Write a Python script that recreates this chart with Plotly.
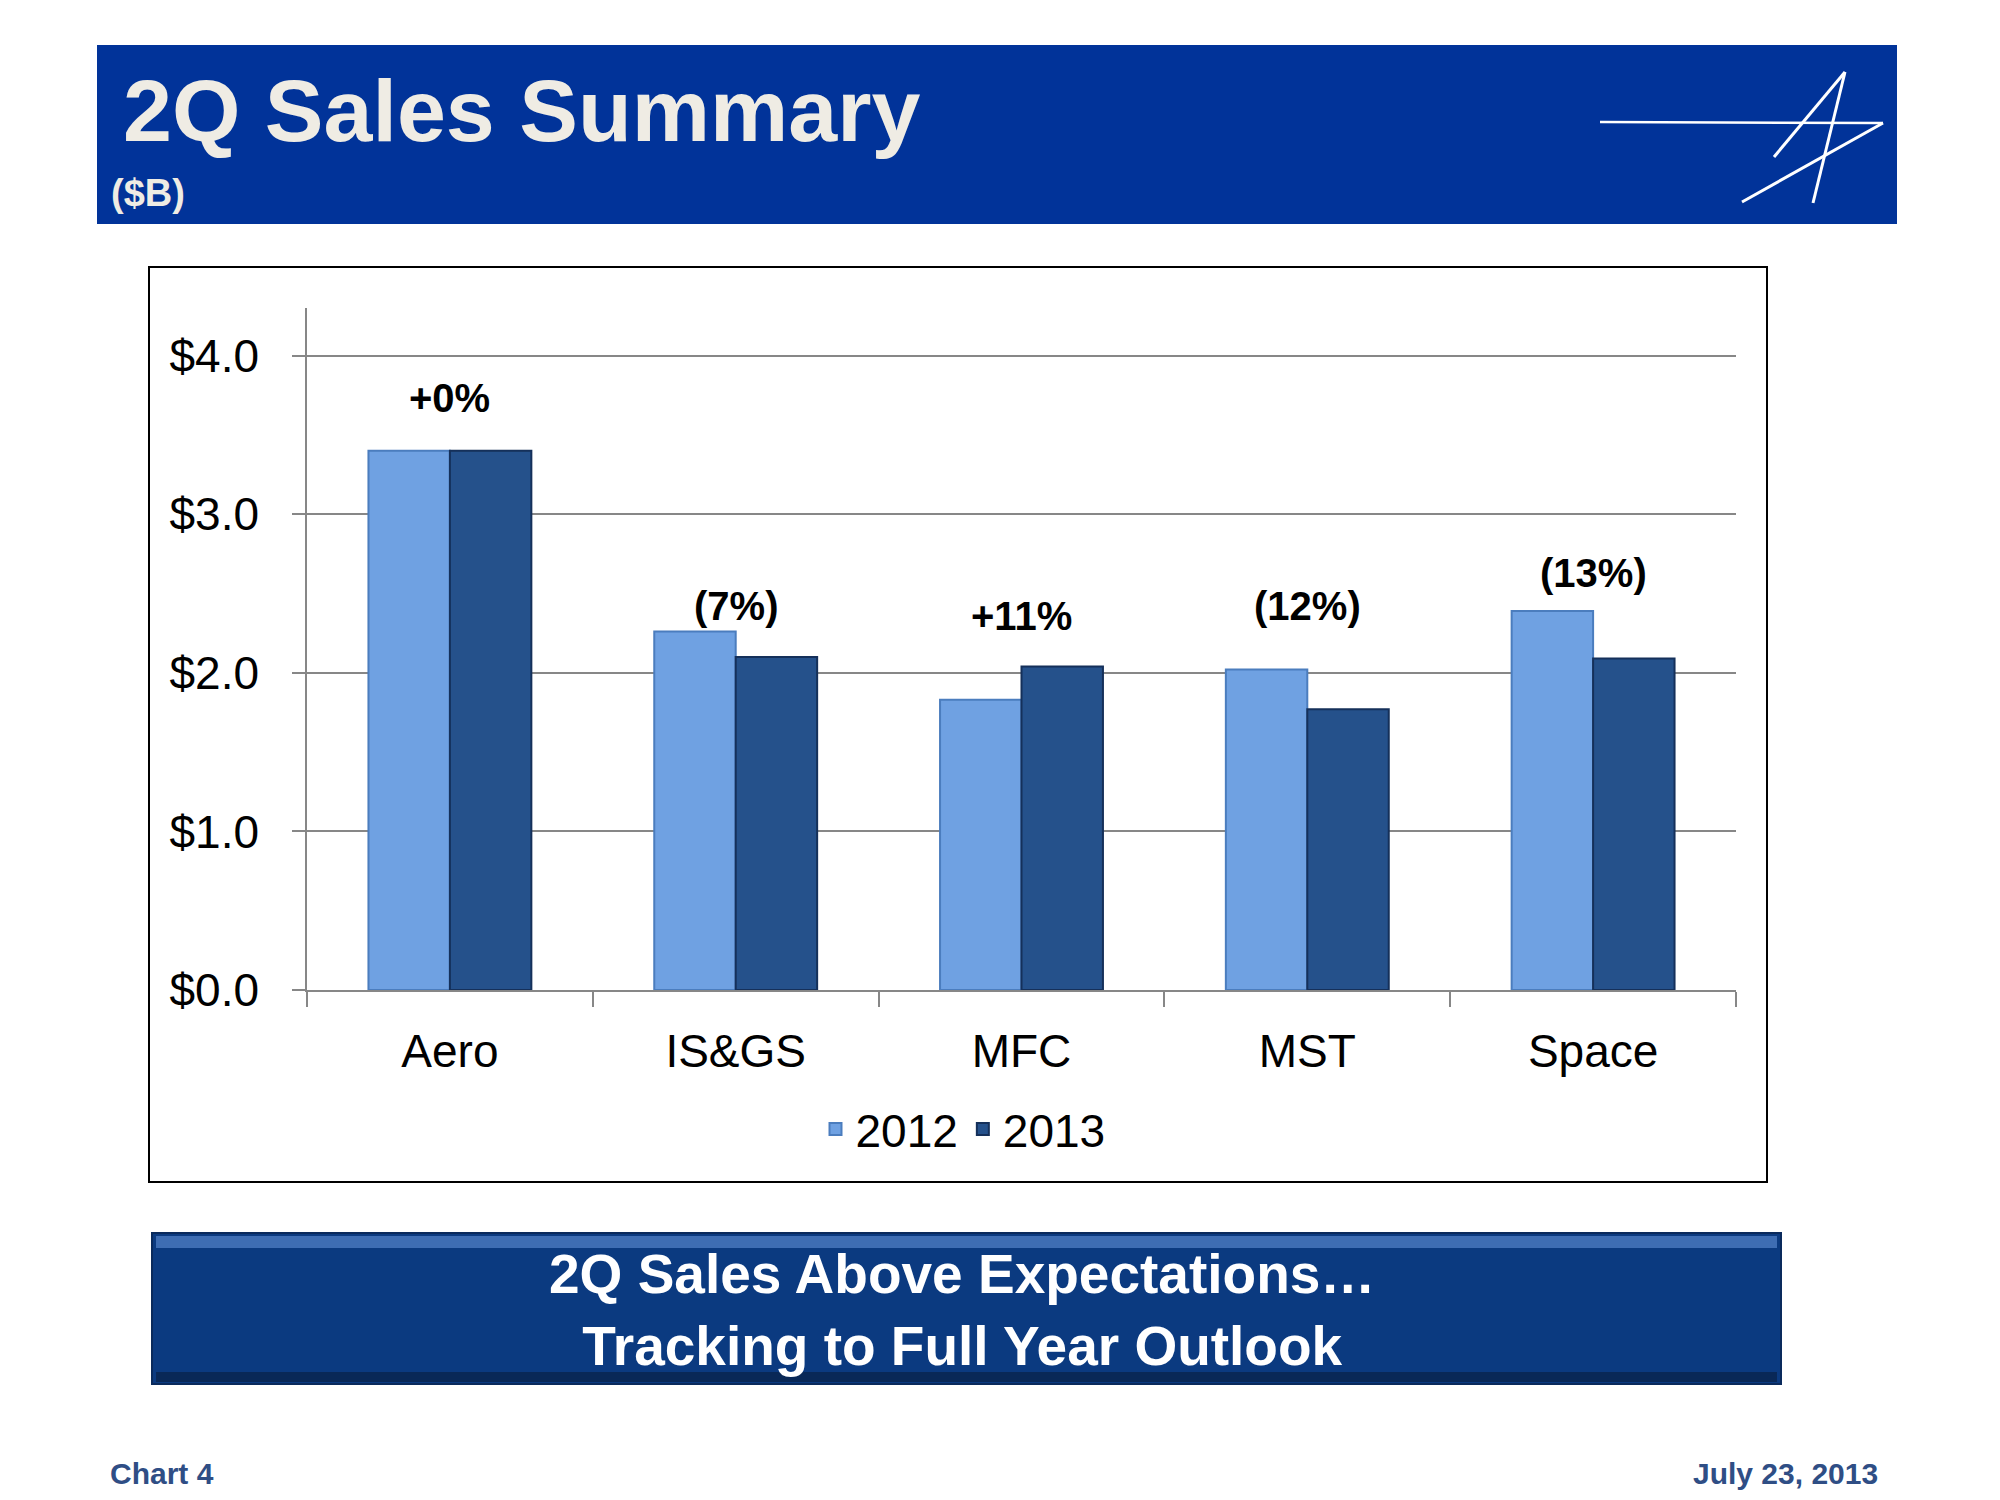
import plotly.graph_objects as go

# ---- data ----
categories = ["Aero", "IS&GS", "MFC", "MST", "Space"]
sales_2012 = [3.40, 2.26, 1.83, 2.02, 2.39]
sales_2013 = [3.40, 2.10, 2.04, 1.77, 2.09]
change_labels = ["+0%", "(7%)", "+11%", "(12%)", "(13%)"]
series_names = ["2012", "2013"]
y_ticks = [0, 1, 2, 3, 4]
y_tick_labels = ["$%.1f" % v for v in y_ticks]

# label lift above taller bar (style)
label_lift = [0.33, 0.16, 0.32, 0.40, 0.24]

OFF = 8  # page body margin
W, H = 2000 - 2 * OFF, 1500 - 2 * OFF
def px(x):
    return (x - OFF) / W
def py(y):
    return (H - (y - OFF)) / H

FONT = "Liberation Sans, Arial, sans-serif"

fig = go.Figure()
fig.add_bar(x=categories, y=sales_2012, name=series_names[0],
            marker=dict(color="#6FA1E2", line=dict(color="#4B7DBE", width=2)))
fig.add_bar(x=categories, y=sales_2013, name=series_names[1],
            marker=dict(color="#25518B", line=dict(color="#15305A", width=2)))

annotations = []
for c, a, b, t, lift in zip(categories, sales_2012, sales_2013, change_labels, label_lift):
    annotations.append(dict(x=c, y=max(a, b) + lift, xref="x", yref="y", text="<b>%s</b>" % t,
                            showarrow=False, font=dict(family=FONT, size=40, color="black"),
                            xanchor="center", yanchor="middle"))

# title texts
annotations.append(dict(x=px(121), y=py(110), xref="paper", yref="paper", text="<b>2Q Sales Summary</b>",
                        showarrow=False, xanchor="left", yanchor="middle",
                        font=dict(family=FONT, size=88, color="#EFECE4")))
annotations.append(dict(x=px(109), y=py(193), xref="paper", yref="paper", text="<b>($B)</b>",
                        showarrow=False, xanchor="left", yanchor="middle",
                        font=dict(family=FONT, size=38, color="#EFECE4")))
# bottom box text
annotations.append(dict(x=px(962), y=py(1310), xref="paper", yref="paper",
                        text="<b>2Q Sales Above Expectations…<br>Tracking to Full Year Outlook</b>",
                        showarrow=False, xanchor="center", yanchor="middle",
                        font=dict(family=FONT, size=55, color="white")))
# footer
annotations.append(dict(x=px(108), y=py(1473), xref="paper", yref="paper", text="<b>Chart 4</b>",
                        showarrow=False, xanchor="left", yanchor="middle",
                        font=dict(family=FONT, size=30, color="#2F4E85")))
annotations.append(dict(x=px(1880), y=py(1473), xref="paper", yref="paper", text="<b>July 23, 2013</b>",
                        showarrow=False, xanchor="right", yanchor="middle",
                        font=dict(family=FONT, size=30, color="#2F4E85")))

shapes = []
# title bar
shapes.append(dict(type="rect", xref="paper", yref="paper", x0=px(97), x1=px(1897), y0=py(224), y1=py(45),
                   fillcolor="#013399", line=dict(width=0), layer="below"))
# logo
def seg(x0, y0, x1, y1, w):
    return dict(type="line", xref="paper", yref="paper", x0=px(x0), y0=py(y0), x1=px(x1), y1=py(y1),
                line=dict(color="white", width=w))
shapes.append(seg(1600, 122, 1883, 123, 2.5))
shapes.append(seg(1883, 123, 1742, 202, 3))
shapes.append(seg(1845, 72, 1813, 203, 3))
shapes.append(seg(1845, 72, 1774, 157, 3))
# chart border
shapes.append(dict(type="rect", xref="paper", yref="paper", x0=px(149), x1=px(1767), y0=py(1182), y1=py(267),
                   line=dict(color="black", width=2), fillcolor="rgba(0,0,0,0)", layer="below"))
# bottom banner with bevel
shapes.append(dict(type="rect", xref="paper", yref="paper", x0=px(152), x1=px(1781), y0=py(1384), y1=py(1233),
                   fillcolor="#0B3A80", line=dict(color="#0A2A5C", width=2), layer="below"))
shapes.append(dict(type="rect", xref="paper", yref="paper", x0=px(156), x1=px(1777), y0=py(1248), y1=py(1236),
                   fillcolor="#3E6DB3", line=dict(width=0), layer="below"))
shapes.append(dict(type="rect", xref="paper", yref="paper", x0=px(156), x1=px(1777), y0=py(1382), y1=py(1372),
                   fillcolor="#092857", line=dict(width=0), layer="below"))

fig.update_layout(
    width=W, height=H,
    margin=dict(l=0, r=0, t=0, b=0, pad=0, autoexpand=False),
    paper_bgcolor="white", plot_bgcolor="white",
    barmode="group", bargap=0.43, bargroupgap=0.0,
    font=dict(family=FONT, color="black"),
    xaxis=dict(domain=[px(307), px(1736)], showline=True, linecolor="#878787", linewidth=1.5,
               ticks="outside", tickson="boundaries", ticklen=15, tickcolor="#878787", tickwidth=1.5,
               tickfont=dict(family=FONT, size=46, color="black"), ticklabelstandoff=20,
               showgrid=False, automargin=False),
    yaxis=dict(domain=[py(990), py(308)], range=[0, 4.3], tickvals=y_ticks, ticktext=y_tick_labels,
               showline=True, linecolor="#878787", linewidth=1.5, ticks="outside", ticklen=13,
               tickcolor="#878787", tickwidth=1.5, showgrid=True, gridcolor="#878787", gridwidth=1.5,
               zeroline=False, tickfont=dict(family=FONT, size=46, color="black"), ticklabelstandoff=24,
               automargin=False),
    legend=dict(orientation="h", x=px(963), xanchor="center", y=py(1129), yanchor="middle",
                font=dict(family=FONT, size=46, color="black"), bgcolor="rgba(0,0,0,0)"),
    annotations=annotations,
    shapes=shapes,
    showlegend=True,
)

fig.write_html("out.html")
